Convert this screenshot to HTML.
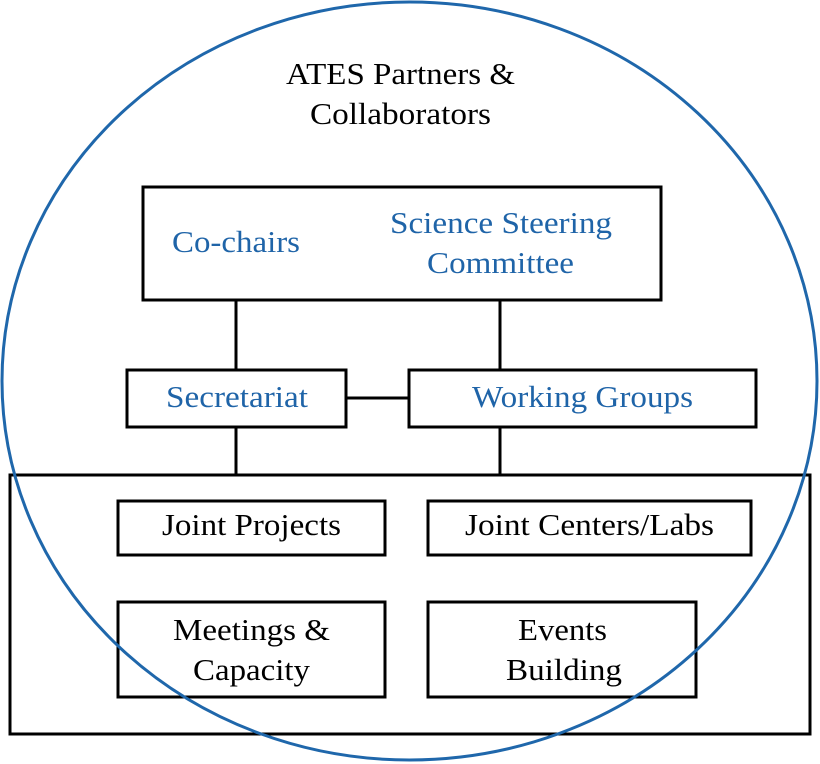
<!DOCTYPE html>
<html><head><meta charset="utf-8"><style>
html,body{margin:0;padding:0;background:#fff;}
svg{display:block}
text{font-family:"Liberation Serif",serif;font-size:31px;}
.b{fill:#1f64a8}
.k{fill:#000}
</style></head><body>
<svg width="820" height="764" viewBox="0 0 820 764" xmlns="http://www.w3.org/2000/svg">
<g fill="#fff" stroke="#000" stroke-width="3">
<rect x="143" y="187" width="518" height="113"/>
<rect x="127" y="370" width="219" height="57"/>
<rect x="409" y="370" width="347" height="57"/>
<rect x="10" y="475" width="800" height="259"/>
<rect x="118" y="501" width="267" height="54"/>
<rect x="428" y="501" width="323" height="54"/>
<rect x="118" y="602" width="267" height="95"/>
<rect x="428" y="602" width="268" height="95"/>
</g>
<g stroke="#000" stroke-width="3">
<line x1="236" y1="300" x2="236" y2="370"/>
<line x1="500" y1="300" x2="500" y2="370"/>
<line x1="346" y1="398" x2="409" y2="398"/>
<line x1="236" y1="427" x2="236" y2="475"/>
<line x1="500" y1="427" x2="500" y2="475"/>
</g>
<ellipse cx="409.5" cy="381" rx="407.5" ry="379" fill="none" stroke="#1f67ab" stroke-width="3"/>
<g lengthAdjust="spacingAndGlyphs">
<text class="k" x="286" y="84" textLength="229" lengthAdjust="spacingAndGlyphs">ATES Partners &amp;</text>
<text class="k" x="310" y="124" textLength="181" lengthAdjust="spacingAndGlyphs">Collaborators</text>
<text class="b" x="172" y="252" textLength="128" lengthAdjust="spacingAndGlyphs">Co-chairs</text>
<text class="b" x="390" y="233" textLength="222" lengthAdjust="spacingAndGlyphs">Science Steering</text>
<text class="b" x="427" y="273" textLength="147" lengthAdjust="spacingAndGlyphs">Committee</text>
<text class="b" x="166" y="407" textLength="142" lengthAdjust="spacingAndGlyphs">Secretariat</text>
<text class="b" x="472" y="407" textLength="221" lengthAdjust="spacingAndGlyphs">Working Groups</text>
<text class="k" x="162" y="535" textLength="179" lengthAdjust="spacingAndGlyphs">Joint Projects</text>
<text class="k" x="465" y="535" textLength="249" lengthAdjust="spacingAndGlyphs">Joint Centers/Labs</text>
<text class="k" x="173" y="640" textLength="157" lengthAdjust="spacingAndGlyphs">Meetings &amp;</text>
<text class="k" x="193" y="680" textLength="117" lengthAdjust="spacingAndGlyphs">Capacity</text>
<text class="k" x="518" y="640" textLength="89" lengthAdjust="spacingAndGlyphs">Events</text>
<text class="k" x="506" y="680" textLength="116" lengthAdjust="spacingAndGlyphs">Building</text>
</g>
</svg>
</body></html>
